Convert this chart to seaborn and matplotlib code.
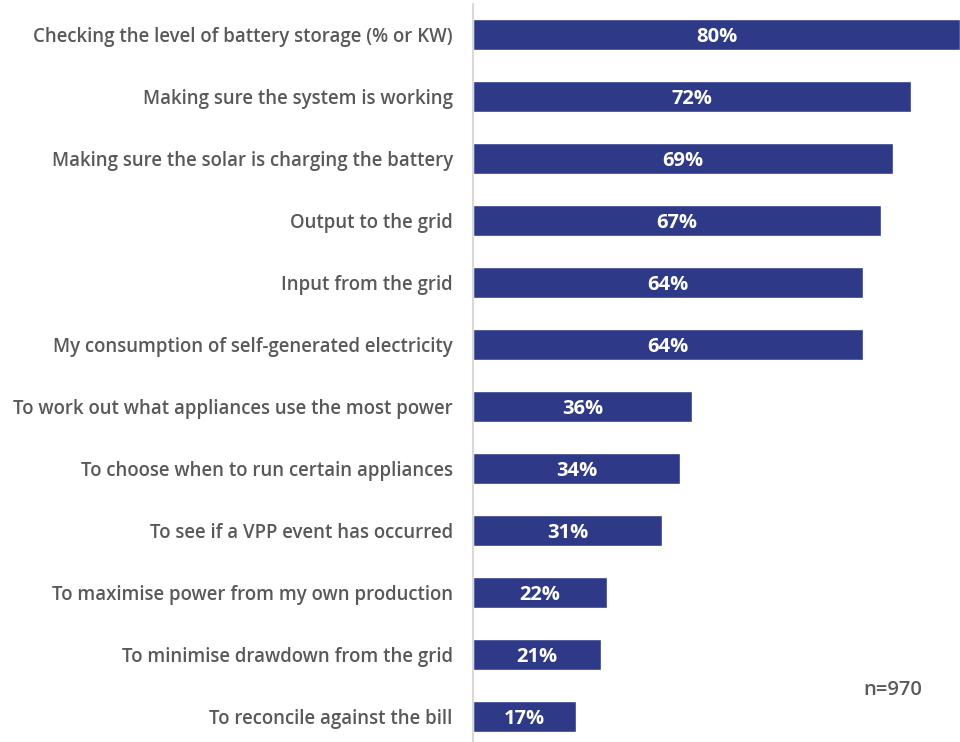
import matplotlib
matplotlib.use('Agg')
import matplotlib.pyplot as plt
import seaborn as sns
import pandas as pd

sns.set_theme(style='white')
plt.rcParams['font.family'] = ['Open Sans', 'DejaVu Sans']

categories = [
    'Checking the level of battery storage (% or KW)',
    'Making sure the system is working',
    'Making sure the solar is charging the battery',
    'Output to the grid',
    'Input from the grid',
    'My consumption of self-generated electricity',
    'To work out what appliances use the most power',
    'To choose when to run certain appliances',
    'To see if a VPP event has occurred',
    'To maximise power from my own production',
    'To minimise drawdown from the grid',
    'To reconcile against the bill',
]
values = [80, 72, 69, 67, 64, 64, 36, 34, 31, 22, 21, 17]
sample_note = 'n=970'

bar_color = '#2E3A87'
text_color = '#595959'

df = pd.DataFrame({'category': categories, 'value': values})

fig = plt.figure(figsize=(9.6, 7.42), dpi=100)
ax = fig.add_axes([0.4927, -0.007, 0.5073, 1.0016])

sns.barplot(data=df, y='category', x='value', color=bar_color, width=0.5,
            saturation=1, ax=ax, orient='h')

ax.set_xlim(0, 80)
ax.set_ylim(11.5, -0.5)
ax.set_xlabel('')
ax.set_ylabel('')
ax.set_xticks([])
for s in ['top', 'right', 'bottom']:
    ax.spines[s].set_visible(False)
ax.spines['left'].set_color('#D9D9D9')
ax.spines['left'].set_linewidth(1.5)

ax.tick_params(axis='y', length=0, pad=14.5, labelsize=13.4, labelcolor=text_color)
for lab in ax.get_yticklabels():
    lab.set_fontweight('semibold')

for i, v in enumerate(values):
    ax.text(v / 2, i, f'{v}%', ha='center', va='center_baseline', color='white',
            fontsize=14.5, fontweight='bold')

fig.text(0.930, 0.07, sample_note, ha='center', va='center', color=text_color,
         fontsize=14.5, fontweight='semibold')

fig.savefig('out.png', dpi=100)
